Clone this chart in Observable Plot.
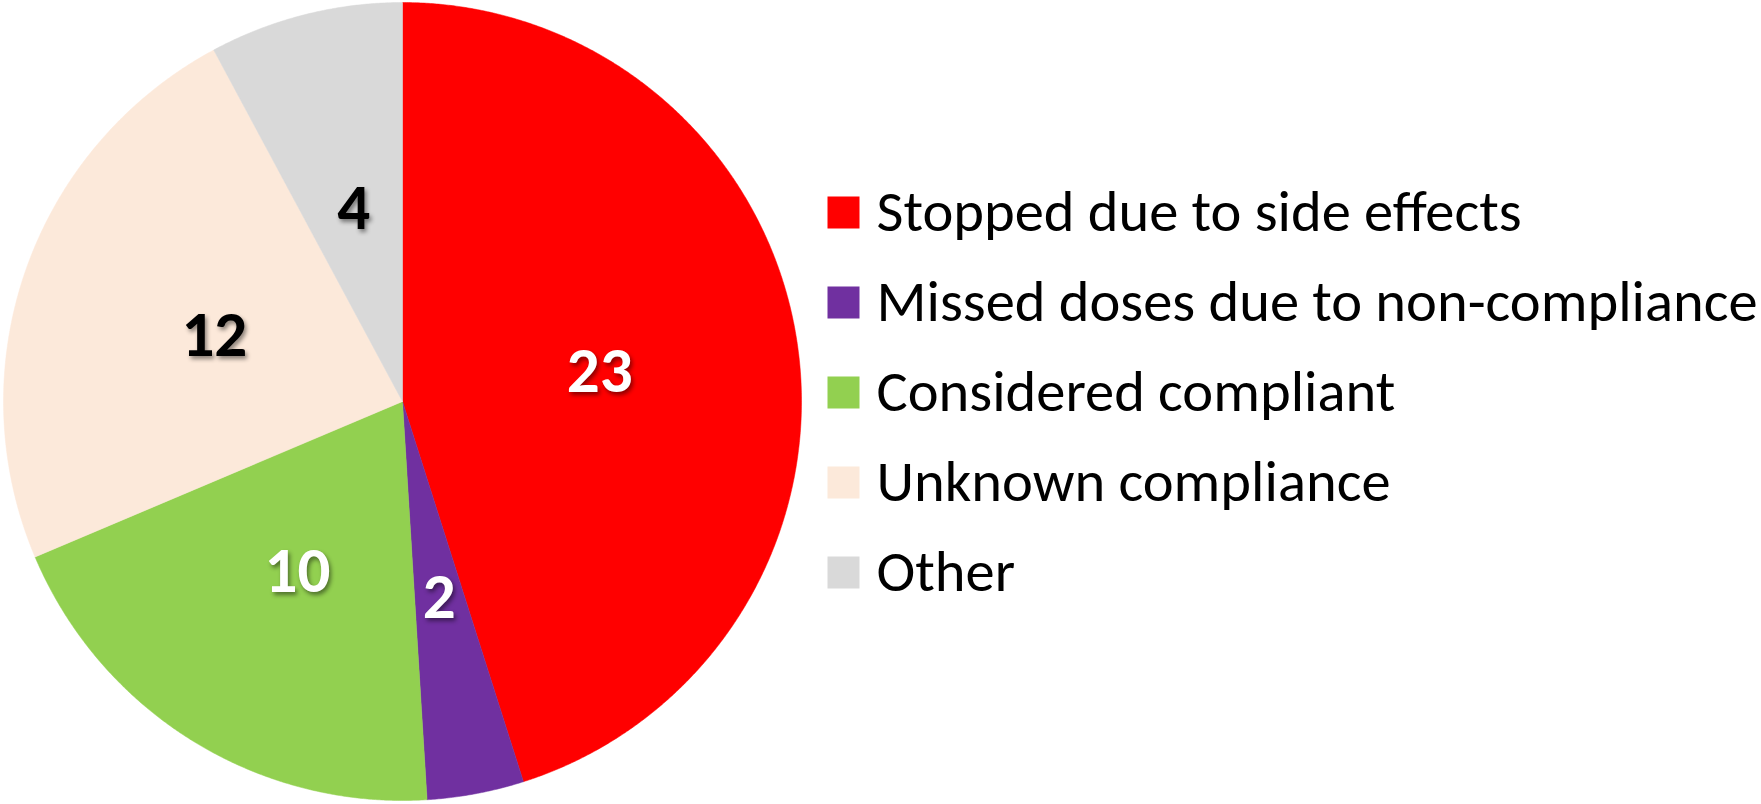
<!DOCTYPE html>
<html><head><meta charset="utf-8">
<script src="https://cdn.jsdelivr.net/npm/d3@7"></script>
<script src="https://cdn.jsdelivr.net/npm/@observablehq/plot@0.6"></script>
<style>
html,body{margin:0;padding:0;background:#fff;}
#chart svg{display:block;}
</style>
</head><body><div id="chart"></div>
<script>
const categories = ["Stopped due to side effects","Missed doses due to non-compliance","Considered compliant","Unknown compliance","Other"];
const values = [23, 2, 10, 12, 4];
const colors = ["#FF0000","#7030A0","#92D050","#FCE9DA","#D9D9D9"];
const labelColors = ["#FFFFFF","#FFFFFF","#FFFFFF","#000000","#000000"];

const W = 1761, H = 804;
const cx = 402, cy = 401, R = 399;           // pie layout (px)
const legendX = 843, legendY0 = 212, legendStep = 90, textX = 876;

const arcs = d3.pie().sort(null).value(d => d)(values);
const polys = [];
arcs.forEach((a, i) => {
  polys.push({i, x: 0, y: 0});
  const n = Math.max(2, Math.ceil((a.endAngle - a.startAngle) / 0.005));
  for (let k = 0; k <= n; k++) {
    const t = a.startAngle + (a.endAngle - a.startAngle) * k / n;
    polys.push({i, x: Math.sin(t), y: Math.cos(t)});
  }
  polys.push({i, x: 0, y: 0});
});
const labels = arcs.map((a, i) => {
  const m = (a.startAngle + a.endAngle) / 2;
  return {i, v: values[i], x: 0.5 * Math.sin(m), y: 0.5 * Math.cos(m)};
});
const toX = px => (px - cx) / R, toY = py => (cy - py) / R;
const legend = categories.map((c, i) => ({i, c, sy: toY(legendY0 + i * legendStep)}));

const plot = Plot.plot({
  width: W, height: H,
  margin: 0,
  x: {domain: [toX(0), toX(W)], axis: null},
  y: {domain: [toY(H), toY(0)], axis: null},
  style: {background: "#fff"},
  marks: [
    Plot.line(polys, {x: "x", y: "y", z: "i", fill: d => colors[d.i], stroke: d => colors[d.i], strokeWidth: 0.5, curve: "linear"}),
    Plot.text(labels, {x: "x", y: "y", text: d => String(d.v), fill: d => labelColors[d.i],
      fontSize: 65, fontWeight: "bold", fontFamily: "Carlito, Calibri, 'Open Sans', sans-serif"}),
    Plot.dot(legend, {x: toX(legendX), y: "sy", symbol: "square", r: 32 / Math.sqrt(Math.PI), fill: d => colors[d.i], stroke: "none"}),
    Plot.text(legend, {x: toX(textX), y: "sy", text: "c", textAnchor: "start", fill: "#000",
      fontSize: 58.5, fontFamily: "Carlito, Calibri, 'Open Sans', sans-serif"})
  ]
});
document.getElementById("chart").appendChild(plot);
// soft drop shadow on the slice value labels
d3.select(plot).selectAll("text").filter(function() { return this.parentNode.getAttribute("font-size") === "65"; })
  .style("filter", "drop-shadow(2px 3px 2px rgba(0,0,0,0.45))");
</script>
</body></html>
